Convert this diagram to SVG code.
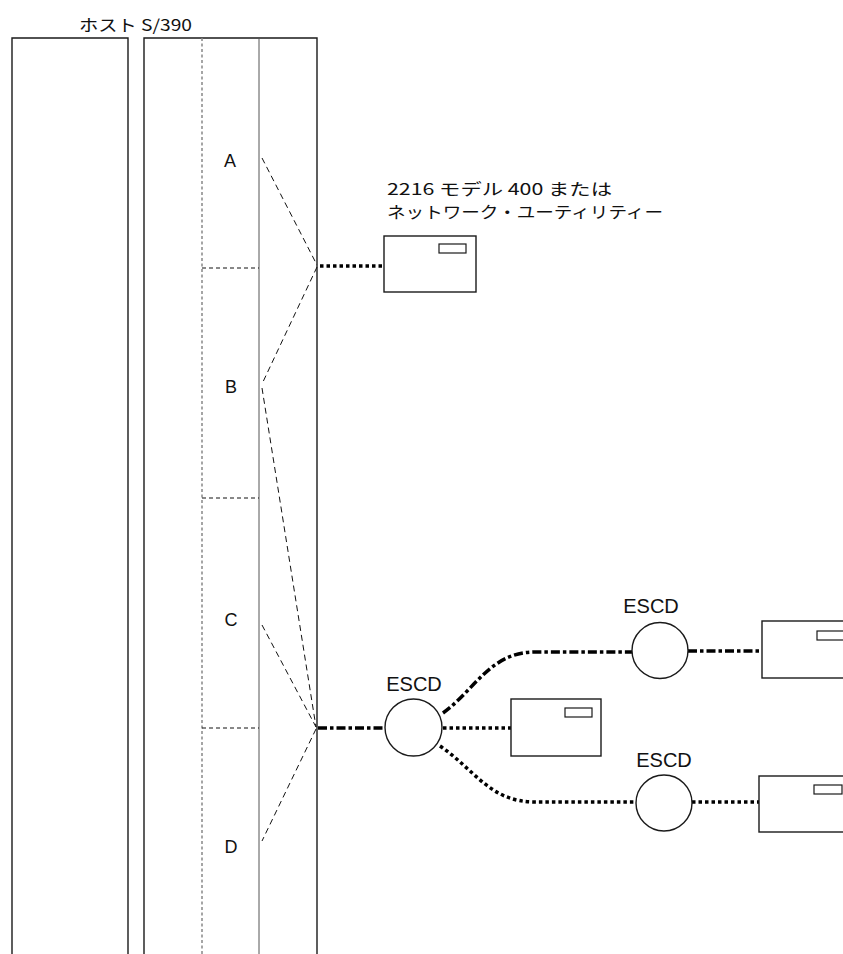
<svg xmlns="http://www.w3.org/2000/svg" width="843" height="954" viewBox="0 0 843 954">
<style>
.frame{fill:none;stroke:#1a1a1a;stroke-width:1.4}
.box{fill:#fff;stroke:#1a1a1a;stroke-width:1.4}
.win{fill:#fff;stroke:#1a1a1a;stroke-width:1.2}
.jp{font-family:"Noto Sans CJK JP","Liberation Sans",sans-serif;font-size:16px;fill:#111}
.lbl{font-family:"Liberation Sans",Arial,sans-serif;font-size:18px;fill:#111}
.esc{font-family:"Liberation Sans",Arial,sans-serif;font-size:20px;fill:#111;text-anchor:middle}
.dash{fill:none;stroke:#111;stroke-width:1;stroke-dasharray:6 4}
.div{fill:none;stroke:#111;stroke-width:1;stroke-dasharray:4 3}
.dot{fill:none;stroke:#000;stroke-width:3.5;stroke-dasharray:3.5 3}
.dashdot{fill:none;stroke:#000;stroke-width:3.5;stroke-dasharray:9 3 3.5 3}
</style>
<g id="host">
<text class="jp" x="79" y="31" font-size="18" textLength="113" lengthAdjust="spacingAndGlyphs">ホスト S/390</text>
<path class="frame" d="M12,960 V38 H128 V960"/>
<path class="frame" d="M144,960 V38 H317 V960"/>
<line x1="202" y1="38" x2="202" y2="960" stroke="#888" stroke-width="1.5" stroke-dasharray="3 2.5"/>
<line x1="259" y1="38" x2="259" y2="960" stroke="#555" stroke-width="1"/>
<line class="div" x1="202" y1="268" x2="259" y2="268"/>
<line class="div" x1="202" y1="498" x2="259" y2="498"/>
<line class="div" x1="202" y1="728" x2="259" y2="728"/>
<text class="lbl" x="230" y="167" text-anchor="middle">A</text>
<text class="lbl" x="231" y="393" text-anchor="middle">B</text>
<text class="lbl" x="231" y="626" text-anchor="middle">C</text>
<text class="lbl" x="231" y="853" text-anchor="middle">D</text>
</g>
<g id="fan-lines">
<line class="dash" x1="262" y1="158" x2="317" y2="265"/>
<line class="dash" x1="317" y1="267" x2="262" y2="384"/>
<line class="dash" x1="262" y1="388" x2="316" y2="727"/>
<line class="dash" x1="262" y1="625" x2="316" y2="727"/>
<line class="dash" x1="316" y1="729" x2="262" y2="841"/>
</g>
<g id="connectors">
<line class="dot" x1="320" y1="266" x2="384" y2="266"/>
<line class="dashdot" x1="318" y1="728" x2="385" y2="728"/>
<line class="dot" x1="443" y1="728" x2="511" y2="728"/>
<path class="dashdot" d="M443,713 C475,690 490,652 535,652 L632,652"/>
<path class="dot" d="M440,746 C475,770 490,802 535,802 L636,802"/>
<line class="dashdot" x1="688" y1="651" x2="762" y2="651"/>
<line class="dot" x1="692" y1="802" x2="759" y2="802"/>
</g>
<g id="nu-2216">
<text class="jp" x="387" y="195" textLength="225" lengthAdjust="spacingAndGlyphs">2216 モデル 400 または</text>
<text class="jp" x="387" y="218" textLength="276" lengthAdjust="spacingAndGlyphs">ネットワーク・ユーティリティー</text>
<rect class="box" x="384" y="236" width="92" height="56"/>
<rect class="win" x="439" y="244" width="27" height="9"/>
</g>
<g id="escd1">
<text class="esc" x="414" y="691">ESCD</text>
<circle class="box" cx="413.5" cy="727.5" r="28.5"/>
</g>
<g id="device-mid">
<rect class="box" x="511" y="699" width="90" height="57"/>
<rect class="win" x="565" y="708" width="27" height="9"/>
</g>
<g id="escd2">
<text class="esc" x="651" y="613">ESCD</text>
<circle class="box" cx="660" cy="650.5" r="28"/>
</g>
<g id="device-top">
<rect class="box" x="762" y="621" width="100" height="57"/>
<rect class="win" x="817" y="631" width="40" height="9"/>
</g>
<g id="escd3">
<text class="esc" x="664" y="767">ESCD</text>
<circle class="box" cx="664" cy="803" r="28"/>
</g>
<g id="device-bottom">
<rect class="box" x="759" y="776" width="100" height="56"/>
<rect class="win" x="814" y="785" width="28" height="9"/>
</g>
</svg>
